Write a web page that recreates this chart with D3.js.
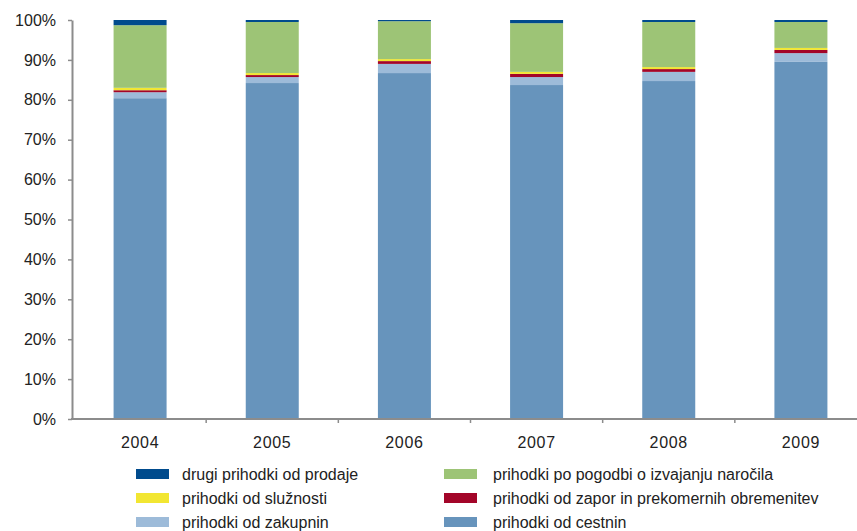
<!DOCTYPE html>
<html><head><meta charset="utf-8">
<script src="https://cdn.jsdelivr.net/npm/d3@7"></script>
<style>body{margin:0;background:#fff}svg{display:block}</style>
</head><body>
<svg id="c" width="857" height="531"></svg>
<script>
const years = ["2004","2005","2006","2007","2008","2009"];
const seriesNames = ["prihodki od cestnin","prihodki od zakupnin","prihodki od zapor in prekomernih obremenitev","prihodki od služnosti","prihodki po pogodbi o izvajanju naročila","drugi prihodki od prodaje"];
const cestnin   = [80.4, 84.2, 86.7, 83.7, 84.7, 89.5];
const zakupnin  = [1.5, 1.5, 2.3, 2.0, 2.3, 2.2];
const zapor     = [0.5, 0.5, 0.7, 0.8, 0.7, 0.8];
const sluznosti = [0.6, 0.5, 0.5, 0.5, 0.5, 0.5];
const pogodbi   = [15.7, 12.8, 9.5, 12.2, 11.3, 6.5];
const drugi     = [1.3, 0.5, 0.3, 0.8, 0.5, 0.5];
const yTicks = [0,10,20,30,40,50,60,70,80,90,100];
const colors = ["#6794BC","#9DBBD9","#A30529","#F2E632","#9DC476","#004B8D"];
const legendOrder = [5,3,1,4,2,0];

const seriesVals = [cestnin, zakupnin, zapor, sluznosti, pogodbi, drugi];
const table = years.map((y,i)=>{const o={year:y}; seriesNames.forEach((n,k)=>o[n]=seriesVals[k][i]); return o;});
const stack = d3.stack().keys(seriesNames)(table);

const svg = d3.select("#c");
const font = "'Liberation Sans',Arial,sans-serif";
const x = d3.scaleBand().domain(years).range([74, 867]).paddingInner(0).paddingOuter(0);
const y = d3.scaleLinear().domain([0,100]).range([419, 20]);
const barW = 53;

svg.append("g").selectAll("g").data(stack).join("g")
  .attr("fill",(d,i)=>colors[i])
  .selectAll("rect").data(d=>d).join("rect")
  .attr("x",d=>x(d.data.year)+x.bandwidth()/2-barW/2)
  .attr("width",barW)
  .attr("y",d=>y(d[1]))
  .attr("height",d=>y(d[0])-y(d[1]));

// y axis
const ya = svg.append("g").attr("transform","translate(72,0)")
  .call(d3.axisLeft(y).tickValues(yTicks).tickFormat(d=>d+"%").tickSize(4).tickSizeOuter(0));
ya.select(".domain").attr("stroke","#8c8c8c").attr("stroke-width",2);
ya.selectAll(".tick line").attr("stroke","#8c8c8c").attr("stroke-width",1.5);
ya.selectAll("text").attr("font-family",font).attr("font-size",16).attr("fill","#222").attr("x",-16);

// x axis
const xa = svg.append("g").attr("transform","translate(0,419)");
xa.append("line").attr("x1",71).attr("x2",857).attr("y1",0).attr("y2",0).attr("stroke","#8c8c8c").attr("stroke-width",2);
xa.selectAll(".tk").data(years.slice(1)).join("line").attr("class","tk")
  .attr("x1",d=>x(d)).attr("x2",d=>x(d)).attr("y1",0).attr("y2",4).attr("stroke","#8c8c8c").attr("stroke-width",1.5);
xa.selectAll(".lb").data(years).join("text").attr("class","lb")
  .attr("x",d=>x(d)+x.bandwidth()/2).attr("y",29).attr("text-anchor","middle")
  .attr("font-family",font).attr("font-size",16).attr("letter-spacing",0.7).attr("fill","#222").text(d=>d);

// legend
const lg = svg.append("g");
legendOrder.forEach((k,j)=>{
  const col = j<3?0:1, row = j%3;
  const gx = col===0?136:444, gy = 474 + row*24;
  lg.append("rect").attr("x",gx).attr("y",gy-5).attr("width",33).attr("height",10).attr("fill",colors[k]);
  lg.append("text").attr("x",gx+(col===0?46:49)).attr("y",gy+6).attr("font-family",font).attr("font-size",16).attr("fill","#222").text(seriesNames[k]);
});
</script>
</body></html>
